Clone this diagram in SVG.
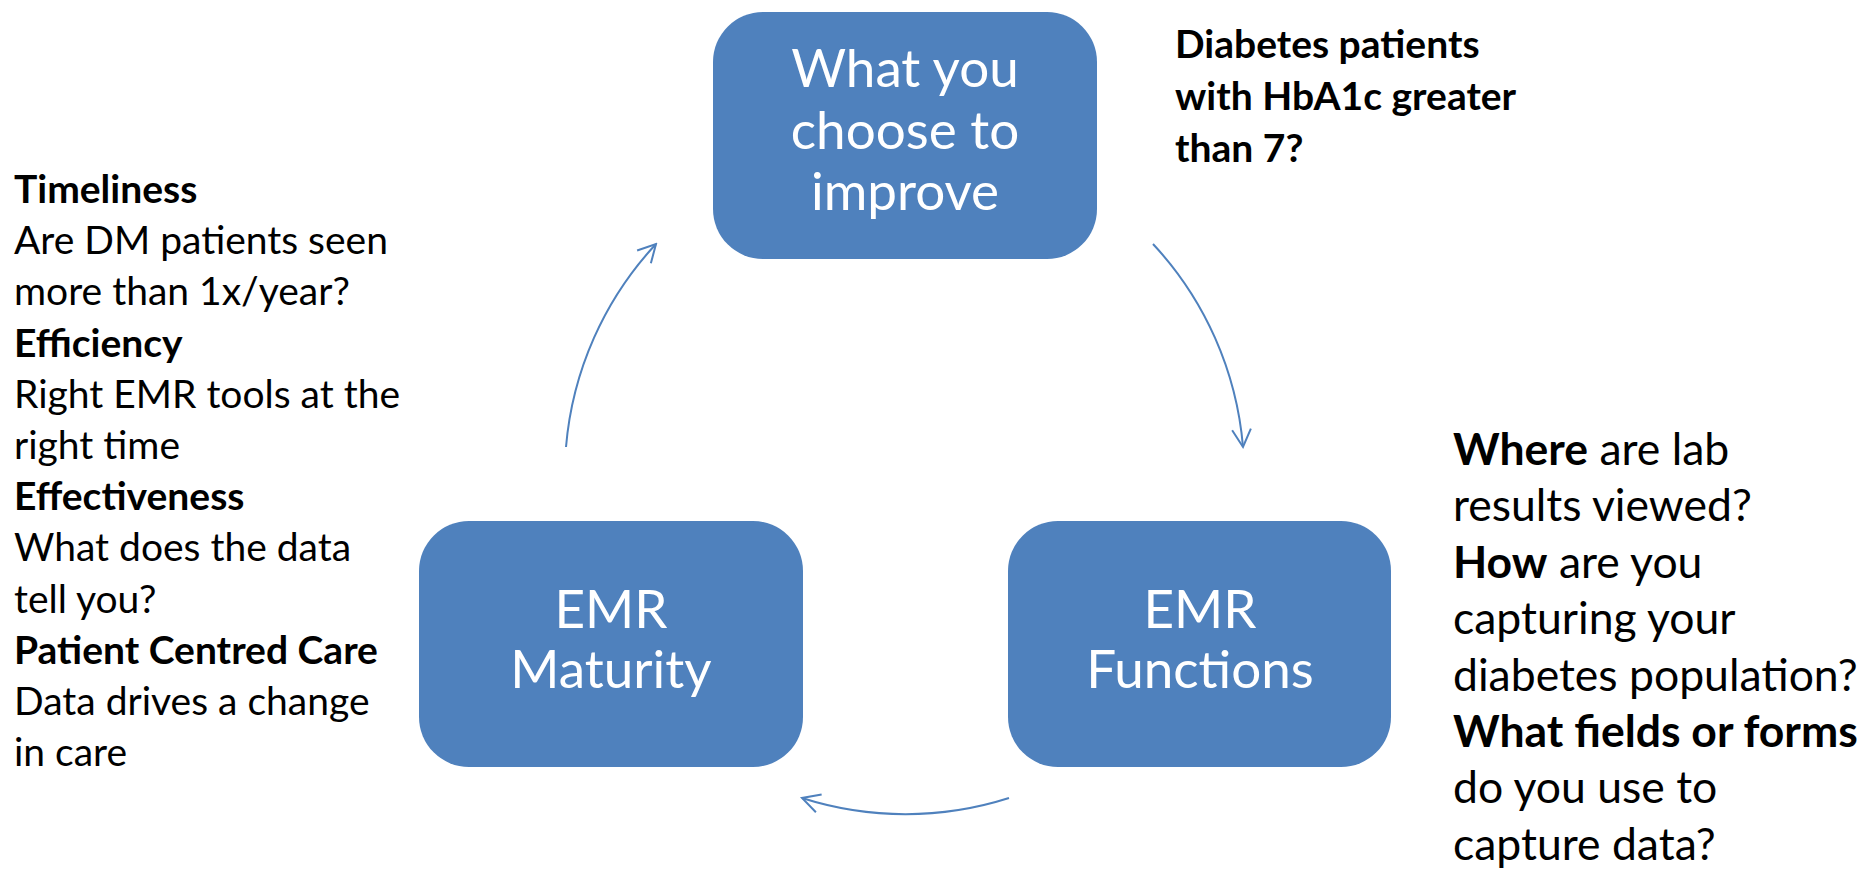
<svg xmlns="http://www.w3.org/2000/svg" width="1870" height="874" viewBox="0 0 1870 874">
<style>
.box{fill:#4F81BD;}
.bt{font-family:Lato,"Open Sans","Liberation Sans",sans-serif;font-size:53px;fill:#ffffff;text-anchor:middle;}
.side{font-family:Lato,"Open Sans","Liberation Sans",sans-serif;fill:#000000;}
.l{font-size:39px;}
.r{font-size:44.5px;}
.b{font-weight:bold;}
.conn{fill:none;stroke:#4F81BD;stroke-width:2;marker-end:url(#arr);}
</style>
<defs>
<marker id="arr" markerUnits="userSpaceOnUse" viewBox="-20 -12 22 24" refX="0" refY="0" markerWidth="22" markerHeight="24" orient="auto">
<path d="M -17.6 -9.4 L 0 0 L -17.6 9.4" fill="none" stroke="#4F81BD" stroke-width="2"/>
</marker>
</defs>
<rect width="1870" height="874" fill="#ffffff"/>
<g id="connectors">
<path class="conn" d="M 566 447 A 340 340 0 0 1 656 244"/>
<path class="conn" d="M 1153 244 A 340 340 0 0 1 1243 447"/>
<path class="conn" d="M 1009 798 A 340 340 0 0 1 802 798"/>
</g>
<g id="node-improve">
<rect class="box" x="713" y="12" width="384" height="247" rx="50" ry="50"/>
<text class="bt" x="905" y="87">What you</text>
<text class="bt" x="905" y="149">choose to</text>
<text class="bt" x="905" y="210">improve</text>
</g>
<g id="node-functions">
<rect class="box" x="1008" y="521" width="383" height="246" rx="50" ry="50"/>
<text class="bt" x="1200" y="628">EMR</text>
<text class="bt" x="1200" y="688">Functions</text>
</g>
<g id="node-maturity">
<rect class="box" x="419" y="521" width="384" height="246" rx="50" ry="50"/>
<text class="bt" x="611" y="628">EMR</text>
<text class="bt" x="611" y="688">Maturity</text>
</g>
<g id="text-topright" class="side b" font-size="39">
<text x="1175" y="58">Diabetes patients</text>
<text x="1175" y="110">with HbA1c greater</text>
<text x="1175" y="162">than 7?</text>
</g>
<g id="text-left" class="side l">
<text x="14" y="203" class="b">Timeliness</text>
<text x="14" y="254.2">Are DM patients seen</text>
<text x="14" y="305.4">more than 1x/year?</text>
<text x="14" y="356.6" class="b">Efficiency</text>
<text x="14" y="407.8">Right EMR tools at the</text>
<text x="14" y="459">right time</text>
<text x="14" y="510.2" class="b">Effectiveness</text>
<text x="14" y="561.4">What does the data</text>
<text x="14" y="612.6">tell you?</text>
<text x="14" y="663.8" class="b">Patient Centred Care</text>
<text x="14" y="715">Data drives a change</text>
<text x="14" y="766.2">in care</text>
</g>
<g id="text-right" class="side r">
<text x="1453" y="465"><tspan class="b">Where</tspan> are lab</text>
<text x="1453" y="521.4">results viewed?</text>
<text x="1453" y="577.8"><tspan class="b">How</tspan> are you</text>
<text x="1453" y="634.2">capturing your</text>
<text x="1453" y="690.6">diabetes population?</text>
<text x="1453" y="747" class="b">What fields or forms</text>
<text x="1453" y="803.4">do you use to</text>
<text x="1453" y="859.8">capture data?</text>
</g>
</svg>
